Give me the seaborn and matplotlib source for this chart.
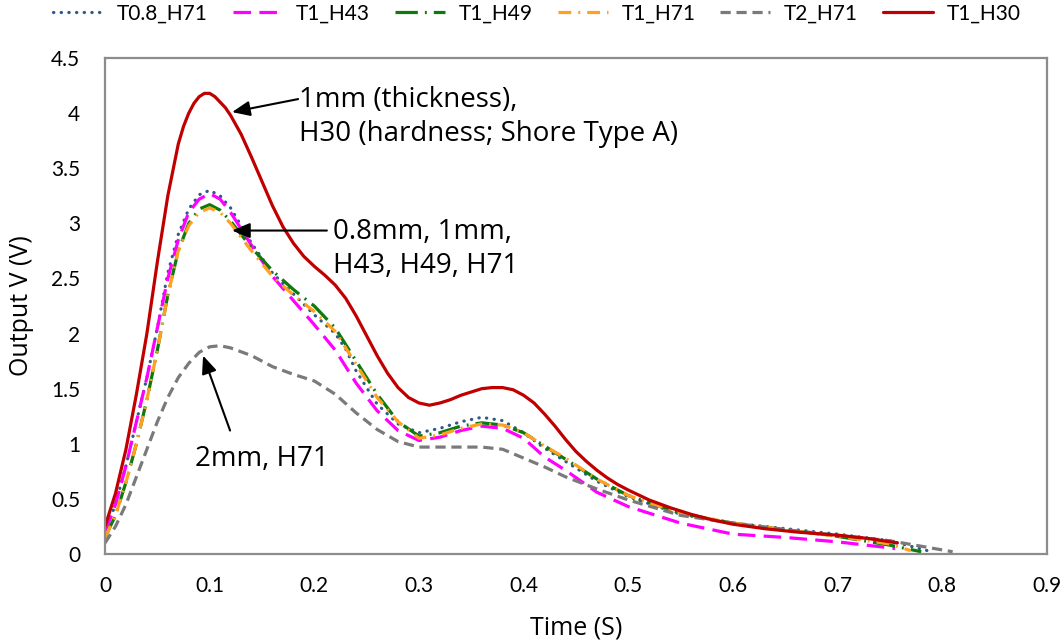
import numpy as np
import pandas as pd
import matplotlib
matplotlib.use("Agg")
import matplotlib.pyplot as plt
import seaborn as sns

# ---------------- data ----------------
t_t08_h71 = [0, 0.01, 0.02, 0.03, 0.04, 0.05, 0.06, 0.07, 0.08, 0.09, 0.1, 0.11, 0.12, 0.14, 0.16, 0.18,
             0.2, 0.22, 0.23, 0.24, 0.26, 0.28, 0.3, 0.32, 0.34, 0.36, 0.38, 0.4, 0.42, 0.44, 0.47, 0.5,
             0.55, 0.6, 0.65, 0.7, 0.75, 0.79]
v_t08_h71 = [0.2, 0.45, 0.8, 1.2, 1.6, 2.05, 2.55, 2.9, 3.13, 3.26, 3.3, 3.25, 3.14, 2.82, 2.55, 2.36,
             2.17, 2.0, 1.86, 1.66, 1.36, 1.18, 1.1, 1.14, 1.2, 1.24, 1.21, 1.1, 0.96, 0.84, 0.66, 0.52,
             0.36, 0.28, 0.23, 0.18, 0.12, 0.02]

t_t1_h43 = [0, 0.01, 0.02, 0.03, 0.04, 0.05, 0.06, 0.07, 0.08, 0.09, 0.1, 0.11, 0.12, 0.14, 0.16, 0.18,
            0.2, 0.22, 0.24, 0.26, 0.28, 0.3, 0.32, 0.34, 0.36, 0.38, 0.4, 0.42, 0.44, 0.47, 0.5,
            0.55, 0.6, 0.65, 0.7, 0.755]
v_t1_h43 = [0.2, 0.45, 0.8, 1.2, 1.6, 2.05, 2.5, 2.85, 3.1, 3.22, 3.27, 3.22, 3.1, 2.8, 2.52, 2.3,
            2.08, 1.85, 1.55, 1.3, 1.12, 1.03, 1.06, 1.12, 1.16, 1.14, 1.05, 0.88, 0.76, 0.56, 0.43,
            0.28, 0.18, 0.15, 0.11, 0.05]

t_t1_h49 = [0, 0.01, 0.02, 0.03, 0.04, 0.05, 0.06, 0.07, 0.08, 0.09, 0.1, 0.11, 0.12, 0.14, 0.16, 0.18,
            0.2, 0.22, 0.24, 0.26, 0.28, 0.3, 0.32, 0.34, 0.36, 0.38, 0.4, 0.42, 0.44, 0.47, 0.5,
            0.55, 0.6, 0.65, 0.7, 0.75, 0.78]
v_t1_h49 = [0.15, 0.35, 0.65, 1.0, 1.4, 1.85, 2.35, 2.75, 3.0, 3.13, 3.17, 3.12, 3.02, 2.78, 2.57, 2.4,
            2.25, 2.05, 1.75, 1.45, 1.2, 1.07, 1.1, 1.16, 1.19, 1.17, 1.1, 0.98, 0.86, 0.68, 0.53,
            0.37, 0.28, 0.22, 0.16, 0.08, 0.02]

t_t1_h71 = [0, 0.01, 0.02, 0.03, 0.04, 0.05, 0.06, 0.07, 0.08, 0.09, 0.1, 0.11, 0.12, 0.14, 0.16, 0.18,
            0.2, 0.22, 0.24, 0.26, 0.28, 0.3, 0.32, 0.34, 0.36, 0.38, 0.4, 0.42, 0.44, 0.47, 0.5,
            0.55, 0.6, 0.65, 0.7, 0.75, 0.77]
v_t1_h71 = [0.15, 0.35, 0.65, 1.0, 1.4, 1.85, 2.35, 2.75, 2.98, 3.1, 3.14, 3.1, 3.0, 2.75, 2.52, 2.35,
            2.2, 2.02, 1.72, 1.42, 1.2, 1.05, 1.08, 1.14, 1.18, 1.17, 1.1, 0.98, 0.87, 0.68, 0.53,
            0.37, 0.28, 0.22, 0.16, 0.09, 0.03]

t_t2_h71 = [0, 0.01, 0.02, 0.03, 0.04, 0.05, 0.06, 0.07, 0.08, 0.09, 0.1, 0.11, 0.12, 0.14, 0.16, 0.18,
            0.2, 0.22, 0.24, 0.26, 0.28, 0.3, 0.33, 0.36, 0.38, 0.4, 0.42, 0.44, 0.47, 0.5,
            0.55, 0.6, 0.65, 0.7, 0.75, 0.78, 0.81]
v_t2_h71 = [0.1, 0.25, 0.45, 0.7, 0.95, 1.2, 1.42, 1.6, 1.73, 1.83, 1.88, 1.89, 1.87, 1.8, 1.7, 1.63,
            1.57, 1.45, 1.28, 1.13, 1.02, 0.97, 0.97, 0.97, 0.95, 0.87, 0.79, 0.7, 0.59, 0.49,
            0.35, 0.28, 0.22, 0.17, 0.12, 0.07, 0.02]

t_t1_h30 = [0, 0.01, 0.02, 0.03, 0.04, 0.05, 0.06, 0.07, 0.075, 0.08, 0.085, 0.09, 0.095, 0.1, 0.105,
            0.11, 0.115, 0.12, 0.13, 0.14, 0.15, 0.16, 0.17, 0.18, 0.19, 0.2, 0.21, 0.22, 0.23, 0.24,
            0.25, 0.26, 0.27, 0.28, 0.29, 0.3, 0.31, 0.32, 0.33, 0.34, 0.35, 0.36, 0.37, 0.38, 0.39,
            0.4, 0.41, 0.42, 0.43, 0.44, 0.45, 0.46, 0.47, 0.48, 0.49, 0.5, 0.52, 0.54, 0.56, 0.58,
            0.6, 0.63, 0.66, 0.7, 0.73, 0.757]
v_t1_h30 = [0.25, 0.55, 0.95, 1.45, 2.0, 2.65, 3.25, 3.72, 3.88, 4.0, 4.09, 4.15, 4.18, 4.18, 4.15,
            4.1, 4.05, 3.98, 3.81, 3.6, 3.38, 3.16, 2.97, 2.82, 2.7, 2.61, 2.53, 2.44, 2.32, 2.16,
            1.98, 1.8, 1.64, 1.51, 1.42, 1.37, 1.35, 1.37, 1.4, 1.44, 1.47, 1.5, 1.51, 1.51, 1.49,
            1.44, 1.37, 1.27, 1.16, 1.04, 0.93, 0.84, 0.76, 0.69, 0.63, 0.58, 0.49, 0.42, 0.36, 0.31,
            0.27, 0.23, 0.2, 0.17, 0.14, 0.1]

series_names = ["T0.8_H71", "T1_H43", "T1_H49", "T1_H71", "T2_H71", "T1_H30"]
series_t = [t_t08_h71, t_t1_h43, t_t1_h49, t_t1_h71, t_t2_h71, t_t1_h30]
series_v = [v_t08_h71, v_t1_h43, v_t1_h49, v_t1_h71, v_t2_h71, v_t1_h30]

x_ticks = [0, 0.1, 0.2, 0.3, 0.4, 0.5, 0.6, 0.7, 0.8, 0.9]
x_tick_labels = ["0", "0.1", "0.2", "0.3", "0.4", "0.5", "0.6", "0.7", "0.8", "0.9"]
y_ticks = [0, 0.5, 1, 1.5, 2, 2.5, 3, 3.5, 4, 4.5]
y_tick_labels = ["0", "0.5", "1", "1.5", "2", "2.5", "3", "3.5", "4", "4.5"]

ann_texts = ["1mm (thickness),\nH30 (hardness; Shore Type A)", "0.8mm, 1mm,\nH43, H49, H71", "2mm, H71"]

# ---------------- styling ----------------
colors = ["#2E5A87", "#FF00FF", "#0E7A0E", "#FFA01E", "#7A7A7A", "#C00000"]
styles = [(0, (0.1, 2.3)), (0, (5.5, 2.6)), (0, (7, 2.2, 0.6, 2.2)), (0, (4, 2.2, 0.6, 2.2)),
          (0, (3.2, 1.8)), "-"]
caps = ["round", "butt", "butt", "butt", "butt", "round"]

sns.set_theme(style="white")
plt.rcParams["font.family"] = ["Open Sans", "DejaVu Sans"]
plt.rcParams["text.color"] = "black"
plt.rcParams["axes.labelcolor"] = "black"
plt.rcParams["xtick.color"] = "black"
plt.rcParams["ytick.color"] = "black"

fig = plt.figure(figsize=(10.63, 6.44), dpi=100)
ax = fig.add_axes([0.0988, 0.1398, 0.886, 0.770])

for name, tt, vv, c, ls, cap in zip(series_names, series_t, series_v, colors, styles, caps):
    df = pd.DataFrame({"t": tt, "v": vv})
    sns.lineplot(data=df, x="t", y="v", ax=ax, color=c, linestyle=ls, linewidth=2.3,
                 label=name, estimator=None, sort=False, dash_capstyle=cap,
                 solid_capstyle="round", solid_joinstyle="round")

ax.set_xlim(0, 0.9)
ax.set_ylim(0, 4.5)
ax.set_xticks(x_ticks)
ax.set_xticklabels(x_tick_labels, family=["Lato", "DejaVu Sans"], fontsize=15)
ax.set_yticks(y_ticks)
ax.set_yticklabels(y_tick_labels, family=["Lato", "DejaVu Sans"], fontsize=15)
ax.tick_params(axis="x", length=0, pad=16)
ax.tick_params(axis="y", length=0, pad=18)
ax.set_xlabel("Time (S)", fontsize=18, labelpad=14)
ax.set_ylabel("Output V (V)", fontsize=18, labelpad=12)
for s in ax.spines.values():
    s.set_visible(True)
    s.set_color("#8C8C8C")
    s.set_linewidth(1.6)

# legend above plot
handles, labels = ax.get_legend_handles_labels()
ax.get_legend().remove()
fig.legend(handles, labels, loc="center", bbox_to_anchor=(0.505, 0.979), ncol=6, frameon=False,
           handlelength=2.4, columnspacing=1.2, handletextpad=0.65, borderaxespad=0,
           prop={"family": ["Lato", "DejaVu Sans"], "size": 15})

# annotations: texts and arrows
arrow = dict(arrowstyle="-|>,head_length=0.9,head_width=0.38", color="black", lw=1.5,
             shrinkA=0, shrinkB=0)
ax.text(0.185, 4.25, ann_texts[0], fontsize=20, ha="left", va="top", linespacing=1.28)
ax.annotate("", xy=(0.1214, 4.01), xytext=(0.1845, 4.128), arrowprops=arrow)
ax.text(0.218, 3.045, ann_texts[1], fontsize=20, ha="left", va="top", linespacing=1.28)
ax.annotate("", xy=(0.1214, 2.935), xytext=(0.212, 2.935), arrowprops=arrow)
ax.text(0.086, 0.99, ann_texts[2], fontsize=20, ha="left", va="top")
ax.annotate("", xy=(0.0937, 1.80), xytext=(0.1195, 1.12), arrowprops=arrow)

fig.savefig("out.png", dpi=100)
